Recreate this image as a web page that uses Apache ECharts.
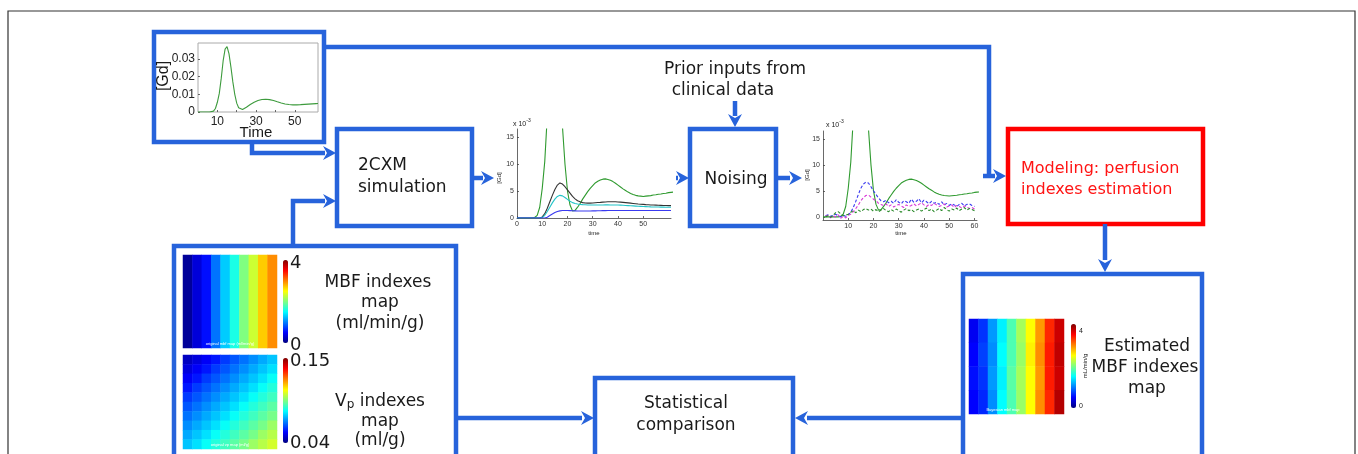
<!DOCTYPE html>
<html>
<head>
<meta charset="utf-8">
<title>MBF simulation workflow</title>
<script src="https://cdn.jsdelivr.net/npm/echarts@6.0.0/dist/echarts.min.js"></script>
<style>
  html, body { margin: 0; padding: 0; background: #fff; }
  #chart { width: 1358px; height: 454px; }
</style>
</head>
<body>
<div id="chart"></div>
<script>
// arterial input, one sample per second, units of 1e-3
const aif = [0, 0, 0, 0, 0, 0, 0, 0.1, 0.5, 2,
  5.5, 10.5, 19, 29, 35.5, 37, 33, 25.5, 17, 10,
  5, 2.4, 1.3, 1.4, 2.0, 2.7, 3.5, 4.2, 4.9, 5.5,
  6.0, 6.5, 6.8, 7.05, 7.2, 7.25, 7.15, 7.0, 6.75, 6.45,
  6.1, 5.75, 5.4, 5.1, 4.8, 4.55, 4.35, 4.2, 4.1, 4.05,
  4.0, 4.05, 4.1, 4.15, 4.25, 4.3, 4.4, 4.45, 4.55, 4.6,
  4.7, 4.75, 4.8]

// 2CXM simulated tissue curves (t = 0..61)
const simBlack = [0, 0, 0, 0, 0, 0, 0, 0, 0, 0,
  0.2, 0.8, 1.8, 3.0, 4.2, 5.3, 6.1, 6.5, 6.3, 5.8,
  5.2, 4.6, 4.0, 3.55, 3.2, 3.0, 2.85, 2.78, 2.75, 2.75,
  2.78, 2.82, 2.86, 2.9, 2.95, 2.98, 3.0, 3.02, 3.02, 3.0,
  2.98, 2.95, 2.9, 2.85, 2.8, 2.75, 2.7, 2.65, 2.6, 2.56,
  2.52, 2.48, 2.45, 2.42, 2.4, 2.38, 2.36, 2.34, 2.32, 2.31,
  2.3, 2.3]
const simCyan = [0, 0, 0, 0, 0, 0, 0, 0, 0, 0,
  0.1, 0.5, 1.2, 2.0, 2.8, 3.5, 4.0, 4.2, 4.1, 3.8,
  3.45, 3.1, 2.85, 2.7, 2.6, 2.52, 2.48, 2.45, 2.42, 2.4,
  2.4, 2.4, 2.4, 2.42, 2.42, 2.43, 2.43, 2.42, 2.42, 2.4,
  2.4, 2.38, 2.36, 2.33, 2.3, 2.27, 2.24, 2.21, 2.18, 2.15,
  2.12, 2.1, 2.08, 2.06, 2.05, 2.04, 2.03, 2.02, 2.01, 2.0,
  2.0, 2.0]
const simBlue = [0, 0, 0, 0, 0, 0, 0, 0, 0, 0,
  0, 0, 0.15, 0.45, 0.75, 1.0, 1.2, 1.32, 1.38, 1.4,
  1.38, 1.36, 1.34, 1.32, 1.3, 1.3, 1.3, 1.3, 1.3, 1.31,
  1.32, 1.33, 1.34, 1.35, 1.36, 1.37, 1.38, 1.38, 1.39, 1.4,
  1.4, 1.4, 1.4, 1.4, 1.4, 1.4, 1.4, 1.4, 1.4, 1.4,
  1.4, 1.4, 1.4, 1.4, 1.4, 1.4, 1.4, 1.4, 1.4, 1.4,
  1.4, 1.4]

// noised curves (t = 1..60)
const noiseBlue = [0.2, 0.4, 0.1, 0.3, 0.5, 0.2, 0.0, 0.3, 0.1, 0.4,
  0.9, 1.8, 3.0, 4.3, 5.5, 6.3, 6.7, 6.5, 5.8, 5.0,
  4.3, 3.6, 3.1, 2.9, 3.2, 2.7, 3.0, 2.6, 3.3, 2.8,
  2.5, 3.1, 2.9, 2.6, 3.4, 2.8, 3.0, 3.5, 2.7, 3.2,
  2.9, 2.5, 3.0, 2.6, 2.8, 2.4, 2.9, 2.3, 2.6, 2.2,
  2.5, 2.3, 2.0, 2.4, 2.6, 2.1, 2.4, 2.5, 2.2, 2.0]
const noiseMagenta = [0.1, 0.3, -0.2, 0.2, 0.0, 0.4, -0.3, 0.1, -0.2, 0.3,
  0.5, 1.0, 1.6, 2.3, 3.1, 3.7, 4.1, 4.2, 3.8, 3.4,
  3.1, 2.6, 2.4, 2.2, 2.5, 2.0, 2.3, 1.9, 2.2, 2.4,
  2.1, 1.8, 2.3, 2.0, 2.2, 2.5, 2.1, 2.4, 2.7, 2.3,
  2.0, 2.4, 2.2, 2.6, 2.3, 2.0, 2.2, 2.5, 1.9, 2.1,
  2.3, 1.8, 2.2, 2.0, 1.7, 2.1, 1.9, 1.6, 1.8, 1.5]
const noiseGreen = [0.0, 0.2, -0.1, 0.3, 0.8, 1.0, 0.6, 0.2, 0.3, 0.5,
  0.9, 1.2, 0.8, 1.3, 1.0, 1.4, 1.6, 1.3, 1.5, 1.1,
  1.4, 1.0, 1.3, 1.6, 1.2, 1.0, 1.4, 1.1, 1.5, 1.2,
  0.9, 1.3, 1.6, 1.2, 1.4, 1.0, 1.3, 1.5, 1.1, 1.4,
  1.7, 1.2, 1.5, 1.0, 1.3, 1.6, 1.2, 1.8, 1.4, 1.1,
  1.5, 1.3, 1.7, 1.2, 1.5, 1.8, 1.3, 1.6, 1.4, 1.2]

// tick labels
const inTimeTicks = [10, 30, 50]
const inConcTicks = [0, 10, 20, 30]
const simTimeTicks = [0, 10, 20, 30, 40, 50]
const noiseTimeTicks = [10, 20, 30, 40, 50, 60]
const concTicks = [0, 5, 10, 15]

// parameter maps
const mbfCols = [0.1, 0.35, 0.55, 0.95, 1.3, 1.6, 2.0, 2.3, 2.7, 2.95]
const vpMap = [
  [0.047, 0.050, 0.053, 0.056, 0.060, 0.063, 0.066, 0.069, 0.072, 0.075],
  [0.050, 0.053, 0.056, 0.060, 0.063, 0.066, 0.069, 0.072, 0.075, 0.078],
  [0.053, 0.056, 0.060, 0.063, 0.066, 0.069, 0.072, 0.075, 0.078, 0.082],
  [0.056, 0.060, 0.063, 0.066, 0.069, 0.072, 0.075, 0.078, 0.082, 0.085],
  [0.060, 0.063, 0.066, 0.069, 0.072, 0.075, 0.078, 0.082, 0.085, 0.088],
  [0.063, 0.066, 0.069, 0.072, 0.075, 0.078, 0.082, 0.085, 0.088, 0.091],
  [0.066, 0.069, 0.072, 0.075, 0.078, 0.082, 0.085, 0.088, 0.091, 0.094],
  [0.069, 0.072, 0.075, 0.078, 0.082, 0.085, 0.088, 0.091, 0.094, 0.098],
  [0.072, 0.075, 0.078, 0.082, 0.085, 0.088, 0.091, 0.094, 0.098, 0.101],
  [0.075, 0.078, 0.082, 0.085, 0.088, 0.091, 0.094, 0.098, 0.101, 0.104]
]
const estMap = [
  [0.45, 0.7, 1.1, 1.45, 1.8, 2.15, 2.5, 2.9, 3.35, 3.7],
  [0.5, 0.75, 1.05, 1.5, 1.8, 2.1, 2.55, 2.95, 3.4, 3.75],
  [0.55, 0.7, 1.1, 1.45, 1.85, 2.15, 2.5, 2.9, 3.4, 3.7],
  [0.5, 0.65, 1.05, 1.5, 1.8, 2.1, 2.5, 2.95, 3.35, 3.8]
]

const jet = ['#000080', '#0000ff', '#0080ff', '#00ffff', '#80ff80', '#ffff00', '#ff8000', '#ff0000', '#800000']
const BLUE = '#2763db'
const FONT = 'DejaVu Sans'
const PLOT_FONT = 'Liberation Sans'

const pairs = (arr, t0) => arr.map((v, i) => [i + t0, v])
const cells = rows => rows.flatMap((row, r) => row.map((v, c) => [c, r, v]))

function box(x, y, w, h, color) {
  return { type: 'rect', z: 10, shape: { x, y, width: w, height: h }, style: { fill: 'none', stroke: color || BLUE, lineWidth: 4.5 } }
}
function seg(points) {
  return { type: 'polyline', z: 10, shape: { points }, style: { fill: 'none', stroke: BLUE, lineWidth: 4.5 } }
}
// arrow head with its tip at (x, y)
function head(x, y, dir) {
  const L = 13, W = 7, N = 4
  let pts
  if (dir === 'right') pts = [[x, y], [x - L, y - W], [x - L + N, y], [x - L, y + W]]
  if (dir === 'left') pts = [[x, y], [x + L, y - W], [x + L - N, y], [x + L, y + W]]
  if (dir === 'down') pts = [[x, y], [x - W, y - L], [x, y - L + N], [x + W, y - L]]
  return { type: 'polygon', z: 10, shape: { points: pts }, style: { fill: BLUE } }
}
function txt(text, x, y, size, o) {
  o = o || {}
  return {
    type: 'text', z: 12, x, y, rotation: o.rotation || 0,
    style: {
      text, fontSize: size, fontFamily: o.family || FONT, fill: o.fill || '#1a1a1a',
      align: o.align || 'center', verticalAlign: 'middle',
      textAlign: o.align || 'center', textVerticalAlign: 'middle', rich: o.rich
    }
  }
}

function valueAxis(grid, min, max, ticks, extra) {
  return Object.assign({
    type: 'value', gridIndex: grid, min, max,
    axisLine: { show: true, onZero: false, lineStyle: { color: '#444', width: 0.8 } },
    axisTick: { inside: true, length: 2, customValues: ticks, lineStyle: { color: '#444', width: 0.8 } },
    axisLabel: { customValues: ticks, fontSize: 7, color: '#333', margin: 3, fontFamily: PLOT_FONT },
    splitLine: { show: false }
  }, extra)
}
function hiddenAxis(grid, n, inverse) {
  return { type: 'category', gridIndex: grid, data: [...Array(n).keys()], show: false, inverse: !!inverse }
}
function curve(data, axis, color, dashed) {
  return {
    type: 'line', xAxisIndex: axis, yAxisIndex: axis, data, showSymbol: false, silent: true,
    clip: true, lineStyle: { color, width: 1.1, type: dashed ? [3, 2] : 'solid' }
  }
}
function colorBar(series, min, max, left, top, h) {
  return {
    type: 'continuous', seriesIndex: series, min, max, calculable: false, hoverLink: false,
    orient: 'vertical', left, top, itemWidth: 5, itemHeight: h, padding: 0,
    inRange: { color: jet }, text: null
  }
}

const chart = echarts.init(document.getElementById('chart'))
chart.setOption({
  animation: false,
  backgroundColor: '#fff',
  grid: [
    { left: 198, top: 43, width: 120, height: 69, show: true, borderColor: '#aaa', borderWidth: 1 },
    { left: 517, top: 129, width: 154, height: 89 },
    { left: 823, top: 131, width: 154, height: 89 },
    { left: 183, top: 255, width: 94, height: 93 },
    { left: 183, top: 355, width: 94, height: 94 },
    { left: 969, top: 319, width: 95, height: 95 }
  ],
  xAxis: [
    valueAxis(0, 0, 62, [10, 20, 30, 40, 50], {
      axisLine: { show: false },
      axisLabel: { customValues: inTimeTicks, fontSize: 12, color: '#222', margin: 4, fontFamily: PLOT_FONT }
    }),
    valueAxis(1, 0, 61, simTimeTicks),
    valueAxis(2, 0, 61, noiseTimeTicks),
    hiddenAxis(3, 10), hiddenAxis(4, 10), hiddenAxis(5, 10)
  ],
  yAxis: [
    valueAxis(0, 0, 39, inConcTicks, {
      axisLine: { show: false },
      axisLabel: {
        customValues: inConcTicks, fontSize: 12, color: '#222', margin: 3, fontFamily: PLOT_FONT,
        formatter: v => v === 0 ? '0' : (v / 1000).toFixed(2)
      }
    }),
    valueAxis(1, 0, 16.5, concTicks),
    valueAxis(2, -0.6, 16.5, concTicks),
    hiddenAxis(3, 1, true), hiddenAxis(4, 10, true), hiddenAxis(5, estMap.length, true)
  ],
  visualMap: [
    colorBar(9, 0, 4, 283, 260, 83),
    colorBar(10, 0.04, 0.15, 283, 358, 85),
    colorBar(11, 0, 4, 1071, 324, 84)
  ],
  series: [
    curve(pairs(aif, 0), 0, '#3d9b3d'),
    curve(pairs(aif, 0), 1, '#2f9a2f'),
    curve(pairs(simBlack, 0), 1, '#333'),
    curve(pairs(simCyan, 0), 1, '#22c4c8'),
    curve(pairs(simBlue, 0), 1, '#3a3af0'),
    curve(pairs(aif, 0), 2, '#2f9a2f'),
    curve(pairs(noiseBlue, 1), 2, '#3a3af0', true),
    curve(pairs(noiseMagenta, 1), 2, '#d83ad8', true),
    curve(pairs(noiseGreen, 1), 2, '#2a8a2a', true),
    { type: 'heatmap', xAxisIndex: 3, yAxisIndex: 3, data: cells([mbfCols]), silent: true },
    { type: 'heatmap', xAxisIndex: 4, yAxisIndex: 4, data: cells(vpMap), silent: true },
    { type: 'heatmap', xAxisIndex: 5, yAxisIndex: 5, data: cells(estMap), silent: true }
  ],
  graphic: { elements: [
    { type: 'polyline', z: 10, shape: { points: [[8, 454], [8, 11], [1355, 11], [1355, 454]] }, style: { fill: 'none', stroke: '#333', lineWidth: 1.2 } },
    // boxes
    box(154, 32, 170, 110),
    box(337, 129, 135, 97),
    box(690, 129, 86, 97),
    box(1008, 129, 195, 95, '#ff0000'),
    box(174, 246, 282, 300),
    box(595, 378, 198, 200),
    box(963, 274, 239, 300),
    // connectors
    seg([[324, 47], [989, 47], [989, 176]]),
    seg([[983, 176], [995, 176]]), head(1006, 176, 'right'),
    seg([[252, 142], [252, 153], [325, 153]]), head(336, 153, 'right'),
    seg([[293, 246], [293, 201], [325, 201]]), head(336, 201, 'right'),
    seg([[472, 178], [483, 178]]), head(494, 178, 'right'),
    seg([[676, 178], [678, 178]]), head(689, 178, 'right'),
    seg([[776, 178], [790, 178]]), head(802, 178, 'right'),
    seg([[735, 101], [735, 116]]), head(735, 127, 'down'),
    seg([[1105, 224], [1105, 260]]), head(1105, 272, 'down'),
    seg([[456, 418], [582, 418]]), head(594, 418, 'right'),
    seg([[963, 418], [807, 418]]), head(795, 418, 'left'),
    // input curve labels
    txt('[Gd]', 164, 76, 16, { rotation: Math.PI / 2, family: PLOT_FONT }),
    txt('Time', 256, 133, 15, { family: PLOT_FONT }),
    // simulated curves labels
    txt('{a|x 10}{b|-3}', 513, 124, 7, { align: 'left', family: PLOT_FONT, rich: { a: { fontSize: 7, fontFamily: PLOT_FONT }, b: { fontSize: 5, fontFamily: PLOT_FONT, padding: [0, 0, 6, 0] } } }),
    txt('[Gd]', 499, 178, 6, { rotation: Math.PI / 2, family: PLOT_FONT }),
    txt('time', 594, 233, 6, { family: PLOT_FONT }),
    txt('{a|x 10}{b|-3}', 826, 125, 7, { align: 'left', family: PLOT_FONT, rich: { a: { fontSize: 7, fontFamily: PLOT_FONT }, b: { fontSize: 5, fontFamily: PLOT_FONT, padding: [0, 0, 6, 0] } } }),
    txt('[Gd]', 807, 175, 6, { rotation: Math.PI / 2, family: PLOT_FONT }),
    txt('time', 901, 233, 6, { family: PLOT_FONT }),
    // block texts
    txt('2CXM', 358, 166, 17, { align: 'left' }),
    txt('simulation', 358, 188, 17, { align: 'left' }),
    txt('Noising', 736, 180, 17),
    txt('Prior inputs from', 735, 70, 17),
    txt('clinical data', 723, 91, 17),
    txt('Modeling: perfusion', 1021, 169, 16, { align: 'left', fill: '#ff1414' }),
    txt('indexes estimation', 1021, 190, 16, { align: 'left', fill: '#ff1414' }),
    txt('Statistical', 686, 404, 17),
    txt('comparison', 686, 426, 17),
    // parameter maps texts
    txt('4', 290, 263, 18, { align: 'left' }),
    txt('0', 290, 345, 18, { align: 'left' }),
    txt('MBF indexes', 378, 283, 17),
    txt('map', 380, 303, 17),
    txt('(ml/min/g)', 380, 324, 17),
    txt('0.15', 290, 361, 18, { align: 'left' }),
    txt('0.04', 290, 443, 18, { align: 'left' }),
    txt('{v|V}{p|p}{t| indexes}', 380, 402, 17, { rich: { v: { fontSize: 17, fontFamily: FONT }, p: { fontSize: 12, fontFamily: FONT, padding: [5, 0, 0, 0] }, t: { fontSize: 17, fontFamily: FONT } } }),
    txt('map', 380, 422, 17),
    txt('(ml/g)', 380, 441, 17),
    txt('original mbf map (ml/min/g)', 230, 344, 4, { fill: '#fff', family: PLOT_FONT }),
    txt('original vp map (ml/g)', 230, 445, 4, { fill: '#fff', family: PLOT_FONT }),
    txt('4', 1079, 331, 7, { align: 'left', family: PLOT_FONT }),
    txt('0', 1079, 406, 7, { align: 'left', family: PLOT_FONT }),
    txt('mL/min/g', 1085, 366, 6, { rotation: Math.PI / 2, family: PLOT_FONT }),
    txt('Bayesian mbf map', 1003, 410, 4, { fill: '#fff', family: PLOT_FONT }),
    txt('Estimated', 1147, 347, 17),
    txt('MBF indexes', 1145, 368, 17),
    txt('map', 1147, 389, 17)
  ] }
})
</script>
</body>
</html>
